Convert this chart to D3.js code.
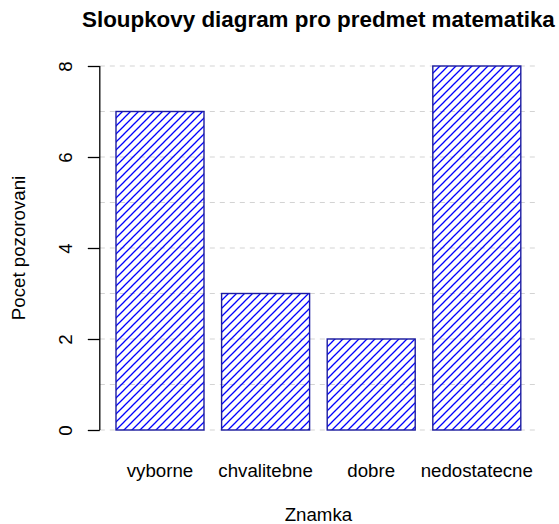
<!DOCTYPE html>
<html>
<head>
<meta charset="utf-8">
<script src="https://cdn.jsdelivr.net/npm/d3@7"></script>
<style>
  body { margin: 0; background: #fff; }
  svg { display: block; }
  text { font-family: "Liberation Sans", Arial, sans-serif; fill: #000; }
</style>
</head>
<body>
<svg id="chart" width="559" height="524"></svg>
<script>
const categories = ["vyborne", "chvalitebne", "dobre", "nedostatecne"];
const counts = [7, 3, 2, 8];
const yTicks = [0, 2, 4, 6, 8];
const gridValues = [0, 1, 2, 3, 4, 5, 6, 7, 8];
const titleText = "Sloupkovy diagram pro predmet matematika";
const xLabel = "Znamka";
const yLabel = "Pocet pozorovani";

const svg = d3.select("#chart");
const barWidth = 1, space = 0.2;
const lefts = categories.map((c, i) => space + i * (barWidth + space));
const xMin = space, xMax = lefts[lefts.length - 1] + barWidth;
const xPad = (xMax - xMin) * 0.04;
const x = d3.scaleLinear().domain([xMin - xPad, xMax + xPad]).range([99.8, 537]);
const yMax = d3.max(counts);
const y = d3.scaleLinear().domain([-0.04 * yMax, yMax * 1.04]).range([444.56, 51.44]);

// hatch pattern
const defs = svg.append("defs");
const pat = defs.append("pattern")
  .attr("id", "hatch")
  .attr("patternUnits", "userSpaceOnUse")
  .attr("width", 8).attr("height", 8)
  .attr("x", x(lefts[0])).attr("y", y(0));
pat.append("path")
  .attr("d", "M-2,10 L10,-2 M-2,2 L2,-2 M6,10 L10,6")
  .attr("stroke", "#0000ff").attr("stroke-width", 1.3).attr("fill", "none");

// grid
svg.append("g").selectAll("line").data(gridValues).join("line")
  .attr("x1", x.range()[0]).attr("x2", x.range()[1])
  .attr("y1", d => y(d)).attr("y2", d => y(d))
  .attr("stroke", "#d3d3d3").attr("stroke-width", 1.2)
  .attr("stroke-dasharray", "5,5");

// bars
svg.append("g").selectAll("rect").data(counts).join("rect")
  .attr("x", (d, i) => x(lefts[i]))
  .attr("width", (d, i) => x(lefts[i] + barWidth) - x(lefts[i]))
  .attr("y", d => y(d))
  .attr("height", d => y(0) - y(d))
  .attr("fill", "url(#hatch)")
  .attr("stroke", "#1c1ca0").attr("stroke-width", 1.4);

// y axis
const yAxis = d3.axisLeft(y).tickValues(yTicks).tickSize(12).tickFormat(d3.format("d"));
const gy = svg.append("g").attr("transform", `translate(${x.range()[0]},0)`).call(yAxis);
gy.select(".domain").attr("d", `M0,${y(yTicks[0])}V${y(yTicks[yTicks.length - 1])}`)
  .attr("stroke", "#000").attr("stroke-width", 1.3);
gy.selectAll(".tick line").attr("stroke", "#000").attr("stroke-width", 1.3);
gy.selectAll(".tick text")
  .attr("x", null).attr("dy", null)
  .attr("transform", "translate(-27.8,0) rotate(-90)")
  .attr("text-anchor", "middle")
  .style("font-size", "18.7px")
  .style("font-family", "Liberation Sans, Arial, sans-serif");

// category labels
svg.append("g").selectAll("text").data(categories).join("text")
  .attr("x", (d, i) => x(lefts[i] + barWidth / 2))
  .attr("y", 477)
  .attr("text-anchor", "middle")
  .style("font-size", "18.7px")
  .text(d => d);

// axis titles
svg.append("text").attr("x", (x.range()[0] + x.range()[1]) / 2).attr("y", 521)
  .attr("text-anchor", "middle").style("font-size", "18.7px").text(xLabel);
svg.append("text")
  .attr("transform", `translate(25,${(y.range()[0] + y.range()[1]) / 2}) rotate(-90)`)
  .attr("text-anchor", "middle").style("font-size", "18.7px").text(yLabel);

// title
svg.append("text").attr("x", (x.range()[0] + x.range()[1]) / 2).attr("y", 27)
  .attr("text-anchor", "middle").style("font-size", "22.4px").style("font-weight", "bold")
  .text(titleText);
</script>
</body>
</html>
